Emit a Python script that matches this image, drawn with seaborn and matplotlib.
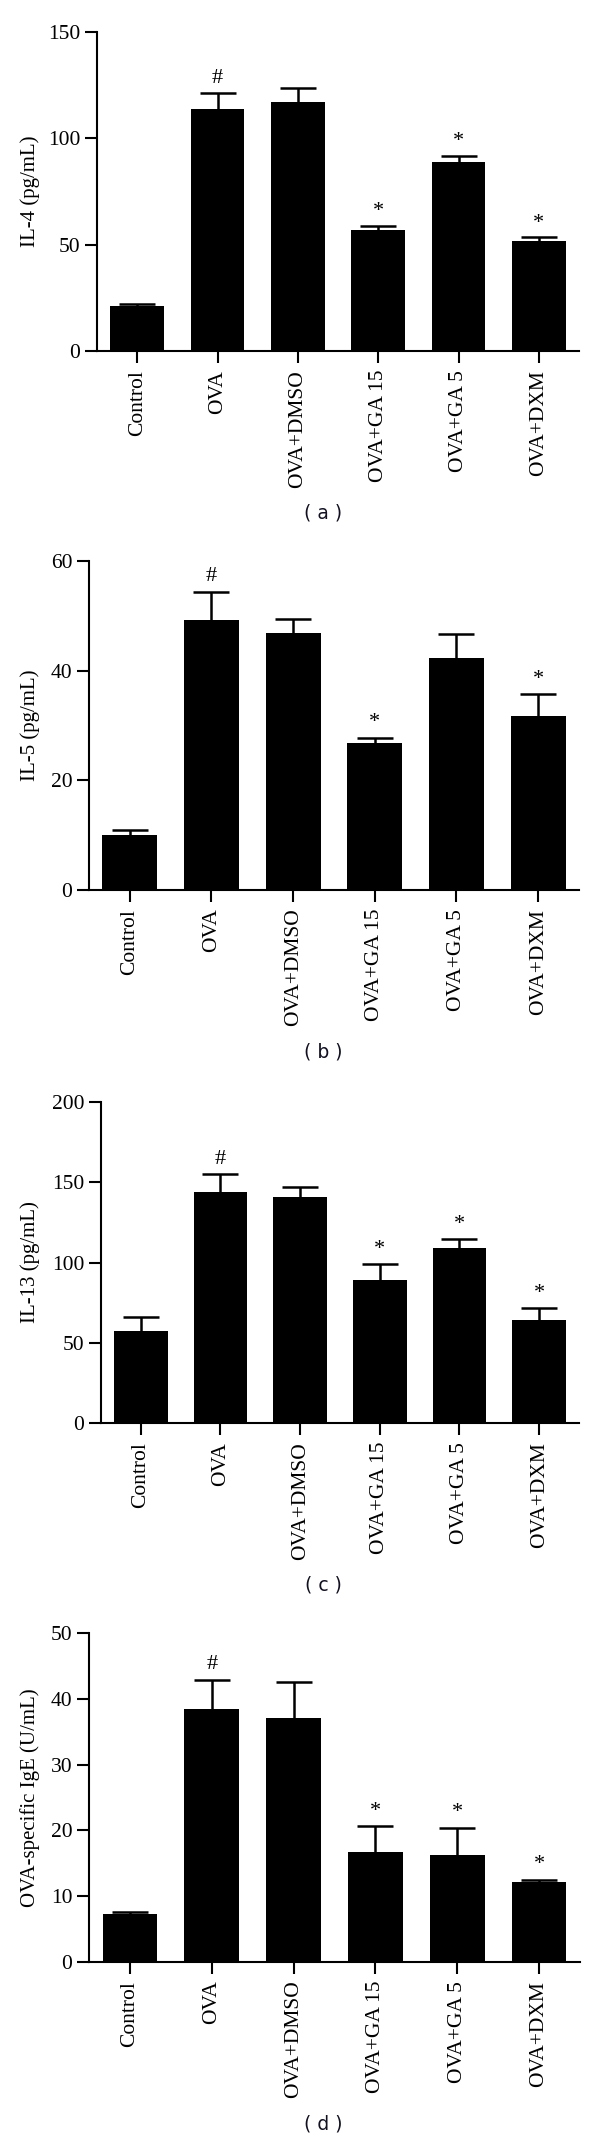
import matplotlib
matplotlib.use("Agg")
import matplotlib.pyplot as plt
import seaborn as sns
import pandas as pd

# groups shared by all four panels
groups = ['Control', 'OVA', 'OVA+DMSO', 'OVA+GA 15', 'OVA+GA 5', 'OVA+DXM']

# (a) IL-4
il4_mean = [21.0, 113.8, 117.0, 57.0, 88.7, 51.5]
il4_err = [1.0, 7.7, 6.8, 1.9, 2.9, 1.9]
il4_mark = ['', '#', '', '*', '*', '*']

# (b) IL-5
il5_mean = [10.1, 49.2, 46.9, 26.8, 42.3, 31.8]
il5_err = [0.85, 5.2, 2.6, 1.0, 4.4, 3.9]
il5_mark = ['', '#', '', '*', '', '*']

# (c) IL-13
il13_mean = [57.1, 144.2, 140.5, 89.2, 108.9, 64.0]
il13_err = [9.0, 11.1, 6.7, 9.8, 5.5, 7.9]
il13_mark = ['', '#', '', '*', '*', '*']

# (d) OVA-specific IgE
ige_mean = [7.3, 38.5, 37.1, 16.7, 16.2, 12.2]
ige_err = [0.3, 4.4, 5.4, 3.9, 4.2, 0.3]
ige_mark = ['', '#', '', '*', '*', '*']

panels = [
    ('IL-4 (pg/mL)', il4_mean, il4_err, il4_mark, 150, 50, '( a )'),
    ('IL-5 (pg/mL)', il5_mean, il5_err, il5_mark, 60, 20, '( b )'),
    ('IL-13 (pg/mL)', il13_mean, il13_err, il13_mark, 200, 50, '( c )'),
    ('OVA-specific IgE (U/mL)', ige_mean, ige_err, ige_mark, 50, 10, '( d )'),
]

# axes boxes in pixels: left, right, top, zero line
boxes = [
    (97, 579, 32, 351),
    (89, 579, 561, 890),
    (101, 579, 1102, 1423),
    (89, 580, 1633, 1962),
]

W, H = 600, 2144

sns.set_theme(style='ticks')
plt.rcParams['font.family'] = ['Liberation Serif', 'DejaVu Serif']

fig = plt.figure(figsize=(W / 100, H / 100), dpi=100)

for (ylab, mean, err, marks, ymax, step, tag), (l, r, t, z) in zip(panels, boxes):
    ax = fig.add_axes([l / W, 1 - z / H, (r - l) / W, (z - t) / H])
    df = pd.DataFrame({'group': groups, 'value': mean})
    sns.barplot(data=df, x='group', y='value', color='black', width=0.67,
                errorbar=None, saturation=1, ax=ax, zorder=2,
                edgecolor='black', linewidth=0)
    # upper half only, like the SEM bars in the paper
    eb = ax.errorbar(range(len(groups)), mean, yerr=[[0] * len(err), err],
                     fmt='none', ecolor='black', elinewidth=1.8, capsize=13,
                     capthick=1.8, zorder=1)
    eb[1][0].set_visible(False)
    for i, m in enumerate(marks):
        if m:
            ax.text(i, mean[i] + err[i] + ymax * 0.045, m, ha='center',
                    va='center', fontsize=16, color='black')
    ax.set_xlim(-0.5, 5.5)
    ax.set_ylim(0, ymax)
    ax.set_yticks(range(0, ymax + 1, step))
    ax.set_xlabel('')
    ax.set_ylabel(ylab, fontsize=15, color='black')
    ax.yaxis.set_label_coords((40 - l) / (r - l), 0.5)
    sns.despine(ax=ax)
    for s in ['left', 'bottom']:
        ax.spines[s].set_linewidth(1.5)
        ax.spines[s].set_color('black')
    ax.tick_params(axis='both', length=8.5, width=1.5, color='black',
                   labelsize=15.5, labelcolor='black')
    ax.tick_params(axis='x', rotation=90, pad=5)
    ax.set_facecolor('white')
    fig.text(323 / W, 1 - (z + 162) / H, tag, ha='center', va='center',
             fontsize=13.5, family=['DejaVu Sans'], color='#111122')

fig.savefig('out.png', dpi=100, facecolor='white')
